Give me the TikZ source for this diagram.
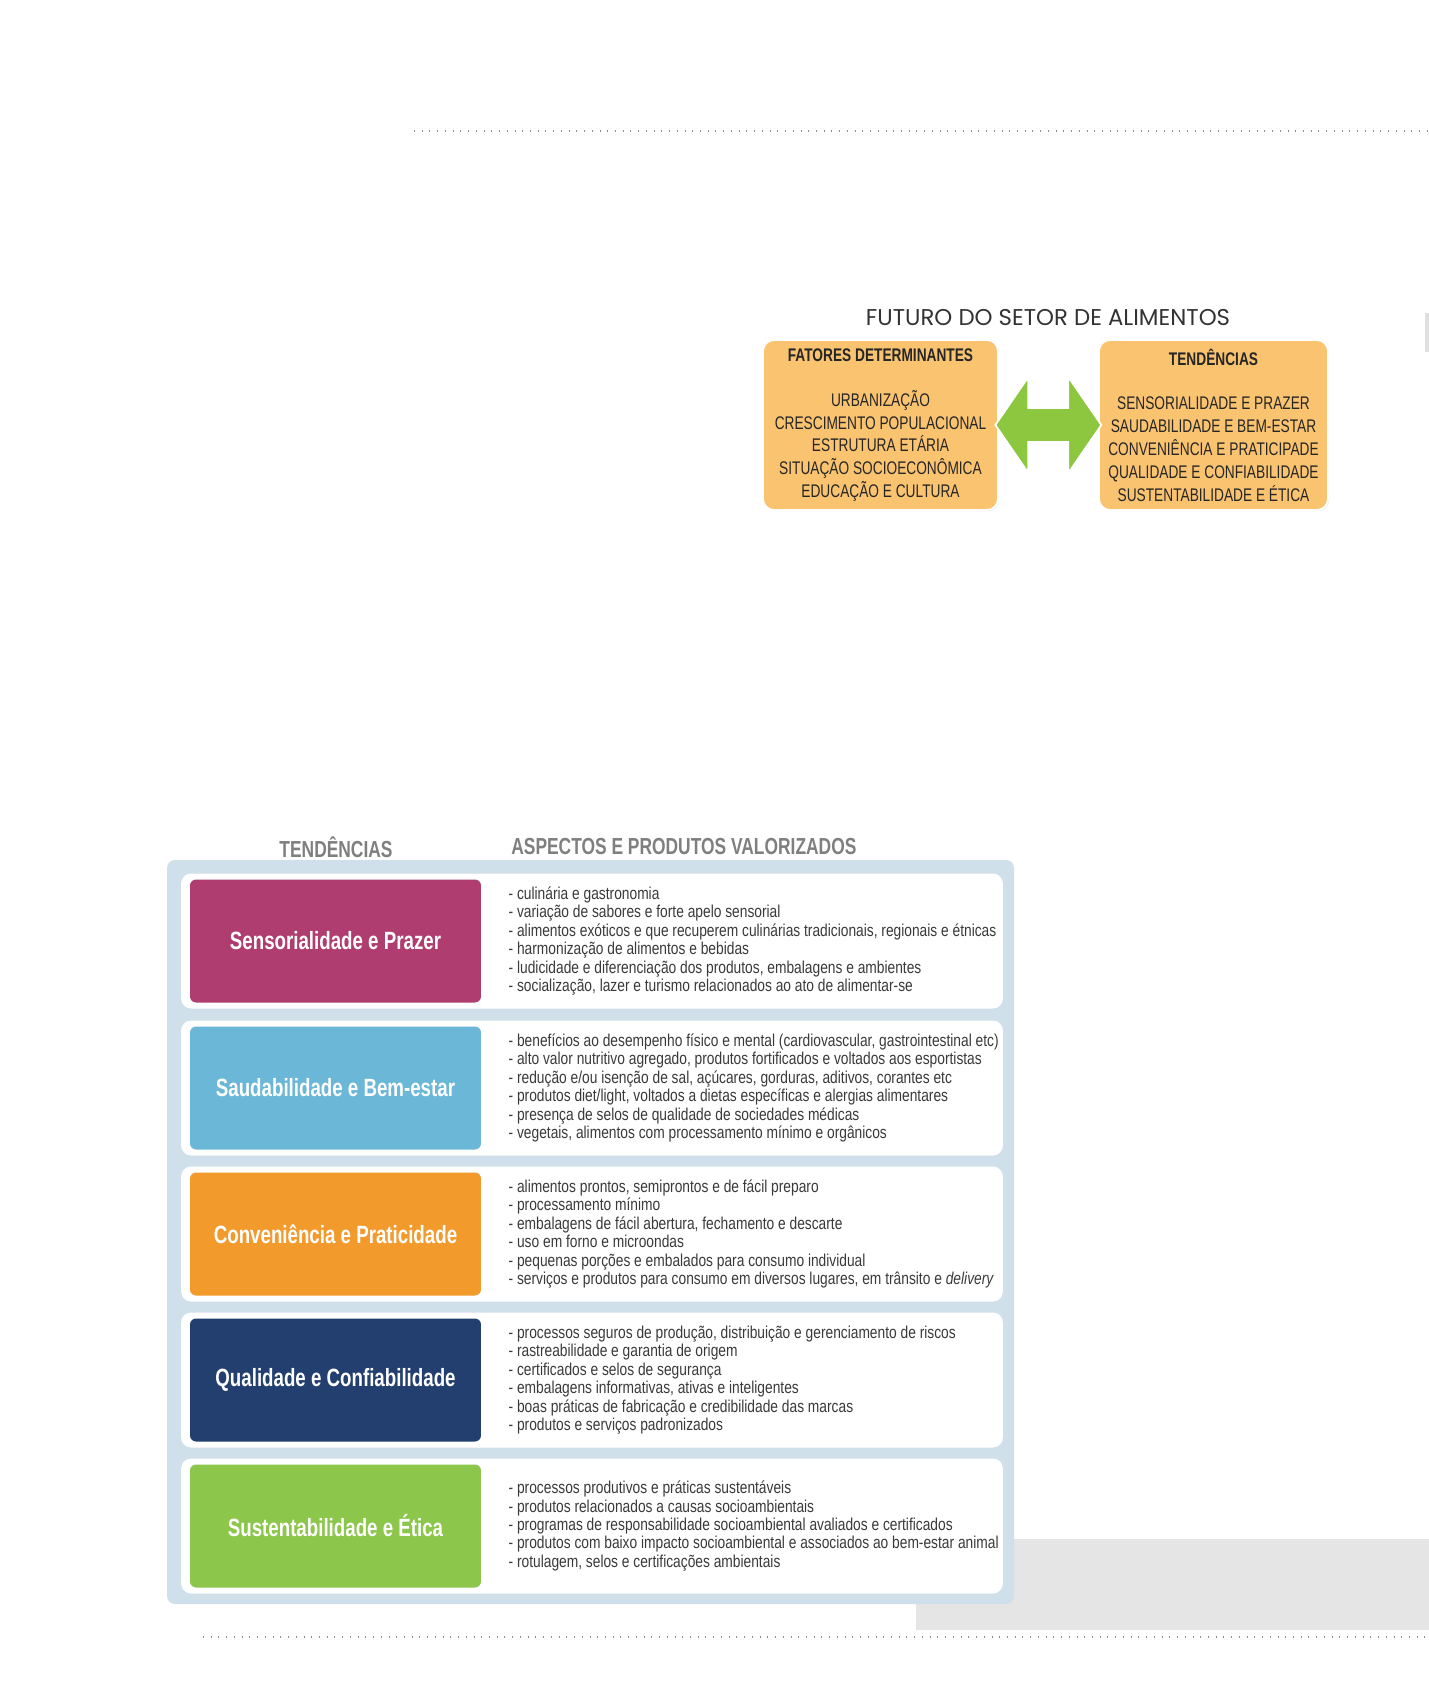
\documentclass[tikz,border=0pt]{standalone}
\usepackage{fontspec}
\setmainfont{Liberation Sans}[FakeStretch=0.75]
\newfontfamily\listfont{Liberation Sans}[FakeStretch=0.8]
\newfontfamily\titlefont{Poppins}
\usepackage{tikz}
\usetikzlibrary{positioning,shadows}

\definecolor{boxorange}{HTML}{FAC370}
\definecolor{arrowgreen}{HTML}{8DC63F}
\definecolor{panelblue}{HTML}{CFE0EB}
\definecolor{sensmag}{HTML}{B03D6F}
\definecolor{saudblue}{HTML}{6BB7D7}
\definecolor{convorange}{HTML}{F39A2C}
\definecolor{qualnavy}{HTML}{223F70}
\definecolor{sustgreen}{HTML}{8CC64A}
\definecolor{headgrey}{HTML}{7F7F7F}
\definecolor{bodytext}{HTML}{3A3A3A}

\begin{document}
\begin{tikzpicture}[x=0.02cm,y=-0.02cm]
	\tikzset{
	  topbox/.style={rounded corners=0.22cm, fill=boxorange, draw=white, line width=1pt,
	    drop shadow={opacity=0.18, shadow xshift=0.6pt, shadow yshift=-0.6pt},
	    minimum height=3.4cm, inner sep=0pt, align=center, text=black!85,
	    font=\fontsize{10.4}{13}\selectfont},
	  rowbox/.style={rounded corners=0.2cm, fill=white, minimum width=16.44cm, minimum height=2.7cm, inner sep=0pt},
	  tagbox/.style={rounded corners=0.12cm, minimum width=5.82cm, minimum height=2.46cm, inner sep=0pt,
	    text=white, font=\fontsize{14.2}{16}\selectfont\bfseries},
	  itemlist/.style={inner sep=0pt, align=left, text=bodytext, font=\listfont\fontsize{9.8}{10.5}\selectfont},
	  colhead/.style={inner sep=0pt, text=headgrey, font=\fontsize{13.2}{15}\selectfont\bfseries},
	  dotline/.style={draw=black!45, line width=0.7pt, dash pattern=on 0.5pt off 3.9pt}
	}

	\useasboundingbox (0,0) rectangle (1429,1708);
	\fill[white] (0,0) rectangle (1429,1708);

	%---PAGE---
	\draw[dotline] (414,131) -- (1429,131);
	\draw[dotline] (203,1637) -- (1429,1637);
	\fill[black!12] (1425,313) rectangle (1429,352);
	\fill[black!10] (916,1539) rectangle (1429,1630);

	%---NODES---
	\node[text=black!80, font=\titlefont\fontsize{13}{15}\selectfont] (title) at (1048,318) {FUTURO DO SETOR DE ALIMENTOS};

	\node[topbox, minimum width=4.7cm] (fat) at (880.5,425) {\textbf{FATORES DETERMINANTES}\\[12.5pt]
	  URBANIZAÇÃO\\ CRESCIMENTO POPULACIONAL\\ ESTRUTURA ETÁRIA\\ SITUAÇÃO SOCIOECONÔMICA\\ EDUCAÇÃO E CULTURA};
	\node[topbox, minimum width=4.58cm] (ten) at (1213.5,425) {\textbf{TENDÊNCIAS}\\[12.5pt]
	  SENSORIALIDADE E PRAZER\\ SAUDABILIDADE E BEM-ESTAR\\ CONVENIÊNCIA E PRATICIPADE\\ QUALIDADE E CONFIABILIDADE\\ SUSTENTABILIDADE E ÉTICA};

	%---EDGES---
	\fill[arrowgreen, draw=white, line width=1pt] ([xshift=-2pt]fat.east) -- ++(33,-48) -- ++(0,31) -- ++(40,0)
	  -- ++(0,-31) -- ++(33,48) -- ++(-33,48) -- ++(0,-31) -- ++(-40,0) -- ++(0,31) -- cycle;

	%---TABLE---
	\node[colhead] (h1) at (336,847) {TENDÊNCIAS};
	\node[colhead, anchor=west] (h2) at (511,847) {ASPECTOS E PRODUTOS VALORIZADOS};

	\fill[panelblue, rounded corners=0.16cm] (167,860) rectangle (1014,1604);

	\node[rowbox] (row1) at (592,941) {};
	\node[rowbox] (row2) at (592,1088) {};
	\node[rowbox] (row3) at (592,1234) {};
	\node[rowbox] (row4) at (592,1380) {};
	\node[rowbox] (row5) at (592,1526) {};

	\node[tagbox, fill=sensmag] (sens) at (335.5,941) {Sensorialidade e Prazer};
	\node[tagbox, fill=saudblue] (saud) at (335.5,1088) {Saudabilidade e Bem-estar};
	\node[tagbox, fill=convorange] (conv) at (335.5,1234) {Conveniência e Praticidade};
	\node[tagbox, fill=qualnavy] (qual) at (335.5,1380) {Qualidade e Confiabilidade};
	\node[tagbox, fill=sustgreen] (sust) at (335.5,1526) {Sustentabilidade e Ética};

	%---LABELS---
	\node[itemlist, right=0.54cm of sens] (l1) {- culinária e gastronomia\\
	  - variação de sabores e forte apelo sensorial\\
	  - alimentos exóticos e que recuperem culinárias tradicionais, regionais e étnicas\\
	  - harmonização de alimentos e bebidas\\
	  - ludicidade e diferenciação dos produtos, embalagens e ambientes\\
	  - socialização, lazer e turismo relacionados ao ato de alimentar-se};
	\node[itemlist, right=0.54cm of saud] (l2) {- benefícios ao desempenho físico e mental (cardiovascular, gastrointestinal etc)\\
	  - alto valor nutritivo agregado, produtos fortificados e voltados aos esportistas\\
	  - redução e/ou isenção de sal, açúcares, gorduras, aditivos, corantes etc\\
	  - produtos diet/light, voltados a dietas específicas e alergias alimentares\\
	  - presença de selos de qualidade de sociedades médicas\\
	  - vegetais, alimentos com processamento mínimo e orgânicos};
	\node[itemlist, right=0.54cm of conv] (l3) {- alimentos prontos, semiprontos e de fácil preparo\\
	  - processamento mínimo\\
	  - embalagens de fácil abertura, fechamento e descarte\\
	  - uso em forno e microondas\\
	  - pequenas porções e embalados para consumo individual\\
	  - serviços e produtos para consumo em diversos lugares, em trânsito e \textit{delivery}};
	\node[itemlist, right=0.54cm of qual] (l4) {- processos seguros de produção, distribuição e gerenciamento de riscos\\
	  - rastreabilidade e garantia de origem\\
	  - certificados e selos de segurança\\
	  - embalagens informativas, ativas e inteligentes\\
	  - boas práticas de fabricação e credibilidade das marcas\\
	  - produtos e serviços padronizados};
	\node[itemlist, right=0.54cm of sust] (l5) {- processos produtivos e práticas sustentáveis\\
	  - produtos relacionados a causas socioambientais\\
	  - programas de responsabilidade socioambiental avaliados e certificados\\
	  - produtos com baixo impacto socioambiental e associados ao bem-estar animal\\
	  - rotulagem, selos e certificações ambientais};

\end{tikzpicture}
\end{document}
